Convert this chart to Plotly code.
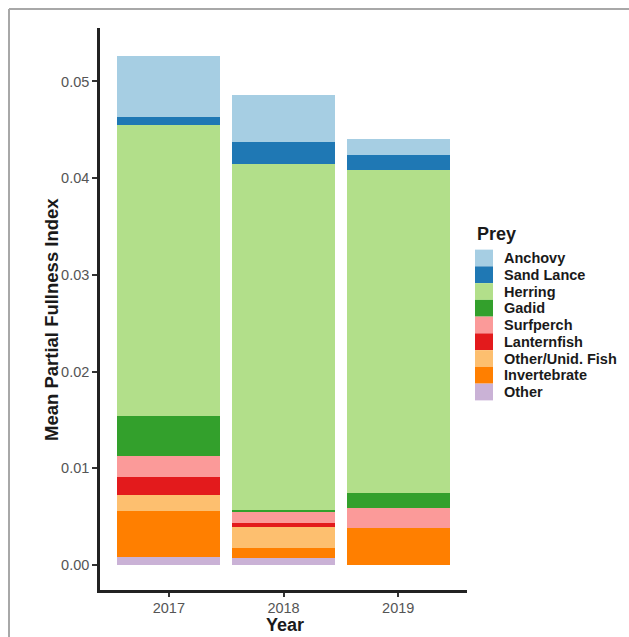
import plotly.graph_objects as go

years = ["2017", "2018", "2019"]
prey = ["Anchovy", "Sand Lance", "Herring", "Gadid", "Surfperch", "Lanternfish",
        "Other/Unid. Fish", "Invertebrate", "Other"]
colors = ["#A6CEE3", "#1F78B4", "#B2DF8A", "#33A02C", "#FB9A99", "#E31A1C",
          "#FDBF6F", "#FF7F00", "#CAB2D6"]

anchovy      = [0.00634, 0.00482, 0.00165]
sand_lance   = [0.00080, 0.00231, 0.00155]
herring      = [0.03006, 0.03578, 0.03344]
gadid        = [0.00414, 0.00020, 0.00155]
surfperch    = [0.00217, 0.00118, 0.00206]
lanternfish  = [0.00189, 0.00041, 0.0]
other_fish   = [0.00166, 0.00217, 0.0]
invertebrate = [0.00478, 0.00104, 0.00380]
other        = [0.00080, 0.00069, 0.0]

series = [anchovy, sand_lance, herring, gadid, surfperch, lanternfish,
          other_fish, invertebrate, other]

W, H = 629, 637
L, R, T, B = 100, 467, 28, 590
pw, ph = R - L, B - T

def px(x):
    return (x - L) / pw

def py(y):
    return (B - y) / ph

fig = go.Figure()
# stack bottom-up: Other first
for name, vals, col in reversed(list(zip(prey, series, colors))):
    fig.add_trace(go.Bar(x=years, y=vals, name=name, marker_color=col,
                         marker_line_width=0, width=0.9, showlegend=False))

FONT = "Liberation Sans, Arial, sans-serif"

shapes = []
annotations = []

# manual legend
key_x0, key_x1 = 475, 493
y0c, step = 258, 16.75
for i, (name, col) in enumerate(zip(prey, colors)):
    cy = y0c + i * step
    shapes.append(dict(type="rect", xref="paper", yref="paper",
                       x0=px(key_x0), x1=px(key_x1),
                       y0=py(cy + step / 2), y1=py(cy - step / 2),
                       fillcolor=col, line_width=0))
    annotations.append(dict(text=name, xref="paper", yref="paper",
                            x=px(502), y=py(cy), xanchor="left", yanchor="middle",
                            showarrow=False,
                            font=dict(family=FONT, size=14.5, color="#1a1a1a", weight="bold")))
annotations.append(dict(text="Prey", xref="paper", yref="paper",
                        x=px(475), y=py(234), xanchor="left", yanchor="middle",
                        showarrow=False,
                        font=dict(family=FONT, size=18, color="#1a1a1a", weight="bold")))
# axis titles
annotations.append(dict(text="Mean Partial Fullness Index", xref="paper", yref="paper",
                        x=px(51), y=py(320), xanchor="center", yanchor="middle",
                        textangle=-90, showarrow=False,
                        font=dict(family=FONT, size=18.5, color="#1a1a1a", weight="bold")))
annotations.append(dict(text="Year", xref="paper", yref="paper",
                        x=px(285), y=py(625), xanchor="center", yanchor="middle",
                        showarrow=False,
                        font=dict(family=FONT, size=18, color="#1a1a1a", weight="bold")))

# outer grey frame (top and left)
shapes.append(dict(type="line", xref="paper", yref="paper",
                   x0=px(9), x1=px(640), y0=py(9), y1=py(9),
                   line=dict(color="#A8A8A8", width=2)))
shapes.append(dict(type="line", xref="paper", yref="paper",
                   x0=px(9), x1=px(9), y0=py(9), y1=py(645),
                   line=dict(color="#A8A8A8", width=2)))

fig.update_layout(
    barmode="stack",
    width=W, height=H,
    margin=dict(l=L, r=W - R, t=T, b=H - B),
    plot_bgcolor="white", paper_bgcolor="white",
    showlegend=False,
    shapes=shapes, annotations=annotations,
    font=dict(family=FONT),
)
fig.update_xaxes(range=[-0.6, 2.6], showline=True, linecolor="#222222", linewidth=2.5,
                 ticks="outside", ticklen=4, tickwidth=1.5, tickcolor="#333333",
                 ticklabelstandoff=-1,
                 tickfont=dict(family=FONT, size=14.5, color="#555555"),
                 showgrid=False, zeroline=False, fixedrange=True)
fig.update_yaxes(range=[-0.002585, 0.05553], showline=True, linecolor="#222222", linewidth=2.5,
                 ticks="outside", ticklen=5, tickwidth=1.5, tickcolor="#333333",
                 tickvals=[0, 0.01, 0.02, 0.03, 0.04, 0.05],
                 ticktext=["0.00", "0.01", "0.02", "0.03", "0.04", "0.05"],
                 tickfont=dict(family=FONT, size=14.5, color="#555555"),
                 showgrid=False, zeroline=False, fixedrange=True)

fig.write_html("out.html")
